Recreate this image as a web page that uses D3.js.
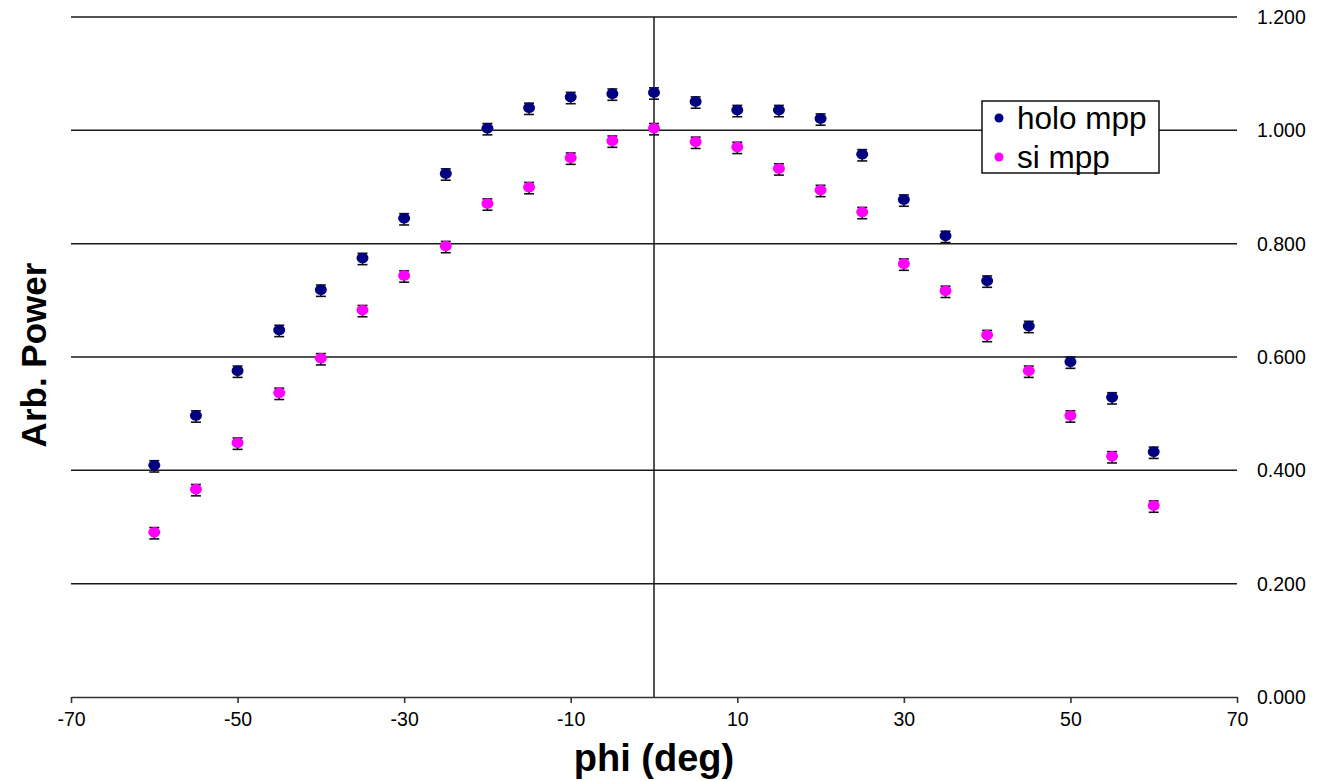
<!DOCTYPE html>
<html>
<head>
<meta charset="utf-8">
<script src="https://cdn.jsdelivr.net/npm/d3@7"></script>
<style>
body{margin:0;background:#fff;}
text{font-family:Arial,"Liberation Sans",sans-serif;}
</style>
</head>
<body>
<div class="canvas"></div>
<script>
const phi  = [-60,-55,-50,-45,-40,-35,-30,-25,-20,-15,-10,-5,0,5,10,15,20,25,30,35,40,45,50,55,60];
const holo = [0.407,0.495,0.574,0.646,0.717,0.773,0.843,0.922,1.002,1.038,1.057,1.063,1.065,1.049,1.034,1.034,1.019,0.956,0.876,0.812,0.733,0.653,0.590,0.527,0.431];
const si   = [0.289,0.365,0.447,0.535,0.596,0.681,0.742,0.794,0.869,0.898,0.950,0.980,1.002,0.978,0.969,0.931,0.893,0.854,0.763,0.715,0.637,0.574,0.495,0.423,0.336];
const err  = 0.01;
const xTicks = [-70,-50,-30,-10,10,30,50,70];
const yTicks = [0,0.2,0.4,0.6,0.8,1.0,1.2];
const seriesNames = ["holo mpp","si mpp"];
const seriesColors = ["#000080","#ff00ff"];

const canvasWidth=1322, canvasHeight=781;
const plotLeft=71, plotRight=1237, plotTop=17, plotBottom=697;

const xScale = d3.scaleLinear().domain([-70,70]).range([plotLeft,plotRight]);
const yScale = d3.scaleLinear().domain([0,1.2]).range([plotBottom,plotTop]);

const svg = d3.select(".canvas").append("svg")
  .attr("width",canvasWidth).attr("height",canvasHeight)
  .style("background-color","white");

// gridlines + right labels
svg.append("g").selectAll("line").data(yTicks.filter(d=>d>0)).enter().append("line")
  .attr("x1",plotLeft).attr("x2",plotRight)
  .attr("y1",d=>yScale(d)).attr("y2",d=>yScale(d))
  .attr("stroke","#1a1a1a").attr("stroke-width",1.5);

svg.append("g").selectAll("text").data(yTicks).enter().append("text")
  .attr("x",1257).attr("y",d=>yScale(d)).attr("dy","0.36em")
  .attr("font-size","19.5px").attr("fill","#000")
  .text(d3.format(".3f"));

// vertical axis at phi = 0
svg.append("line")
  .attr("x1",xScale(0)).attr("x2",xScale(0))
  .attr("y1",plotTop).attr("y2",plotBottom)
  .attr("stroke","#1a1a1a").attr("stroke-width",1.5);

// x axis (plain hyphen minus like the original)
const xAxis = d3.axisBottom(xScale).tickValues(xTicks).tickFormat(d=>String(d))
  .tickSize(6).tickSizeOuter(0).tickPadding(9);
const gx = svg.append("g").attr("transform",`translate(0,${plotBottom})`).call(xAxis);
gx.select(".domain").attr("stroke","#333").attr("stroke-width",1.6);
gx.selectAll(".tick line").attr("stroke","#333").attr("stroke-width",1.6);
gx.selectAll(".tick text").attr("font-size","19.5px").attr("fill","#000")
  .attr("font-family","Arial,'Liberation Sans',sans-serif");

// titles
svg.append("text").attr("x",654).attr("y",771).attr("text-anchor","middle")
  .attr("font-size","38px").attr("font-weight","bold").text("phi (deg)");
svg.append("text").attr("transform","translate(46,355) rotate(-90)")
  .attr("text-anchor","middle").attr("font-size","35px").attr("font-weight","bold")
  .text("Arb. Power");

// series
const series = [holo, si];
series.forEach((vals,i)=>{
  const pts = phi.map((p,j)=>({x:p,y:vals[j]}));
  const g = svg.append("g");
  const eb = g.selectAll("g.eb").data(pts).enter().append("g")
    .attr("stroke","#111").attr("stroke-width",1.6);
  eb.append("line").attr("x1",d=>xScale(d.x)).attr("x2",d=>xScale(d.x))
    .attr("y1",d=>yScale(d.y+err)).attr("y2",d=>yScale(d.y-err));
  eb.append("line").attr("x1",d=>xScale(d.x)-5).attr("x2",d=>xScale(d.x)+5)
    .attr("y1",d=>yScale(d.y+err)).attr("y2",d=>yScale(d.y+err));
  eb.append("line").attr("x1",d=>xScale(d.x)-5).attr("x2",d=>xScale(d.x)+5)
    .attr("y1",d=>yScale(d.y-err)).attr("y2",d=>yScale(d.y-err));
  g.selectAll("ellipse").data(pts).enter().append("ellipse")
    .attr("cx",d=>xScale(d.x)).attr("cy",d=>yScale(d.y)-1)
    .attr("rx",6).attr("ry",5.3).attr("fill",seriesColors[i]);
});

// legend
const lg = svg.append("g");
lg.append("rect").attr("x",982).attr("y",101).attr("width",177).attr("height",72)
  .attr("fill","#fff").attr("stroke","#111").attr("stroke-width",1.5);
seriesNames.forEach((name,i)=>{
  const cy = 118 + i*39;
  lg.append("circle").attr("cx",999).attr("cy",cy).attr("r",4.5).attr("fill",seriesColors[i]);
  lg.append("text").attr("x",1017).attr("y",cy).attr("dy","0.36em")
    .attr("font-size","31.5px").attr("fill","#000").text(name);
});
</script>
</body>
</html>
